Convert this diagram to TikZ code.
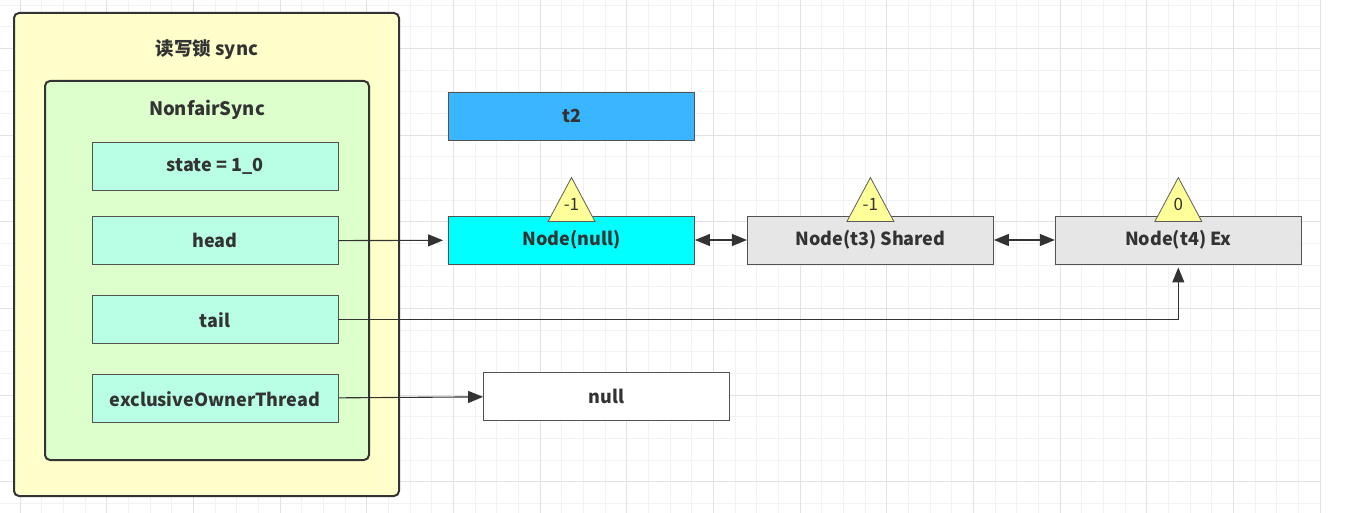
\documentclass[tikz,border=0pt]{standalone}
\usepackage{fontspec}
\setmainfont{Noto Sans CJK SC}
\usetikzlibrary{arrows.meta,positioning}
\definecolor{outerfill}{HTML}{FFFFCC}
\definecolor{innerfill}{HTML}{DDFFCC}
\definecolor{fieldfill}{HTML}{B9FFE6}
\definecolor{threadfill}{HTML}{3AB5FF}
\definecolor{headfill}{HTML}{00FFFF}
\definecolor{nodegray}{HTML}{E6E6E6}
\definecolor{countfill}{HTML}{FFFF99}
\definecolor{ink}{HTML}{333333}
\definecolor{gridminor}{HTML}{F2F2F2}
\definecolor{gridmajor}{HTML}{E2E2E2}

\begin{document}
\begin{tikzpicture}[x=1pt, y=-1pt,
  box/.style={draw=ink!85, line width=0.9pt, minimum width=246pt, minimum height=48pt, align=center, font=\fontsize{18}{21}\selectfont\bfseries, text=ink},
  field/.style={box, fill=fieldfill},
  qnode/.style={box, fill=nodegray},
  frame/.style={draw=ink, line width=2pt, rounded corners=5pt, inner sep=0pt},
  title/.style={font=\fontsize{18.5}{22}\selectfont\bfseries, text=ink},
  cnt/.style={draw=ink!80, fill=countfill, line width=0.8pt},
  arr/.style={-{Triangle[length=15pt,width=12pt]}, line width=1.1pt, draw=ink},
  darr/.style={{Triangle[length=15pt,width=12pt]}-{Triangle[length=15pt,width=12pt]}, line width=1.1pt, draw=ink}
]
  \useasboundingbox (0,0) rectangle (1367,513);
  % background grid
  \foreach \i in {0,...,61} \draw[gridminor, line width=0.8pt] ({-1.67+21.667*\i},0) -- ++(0,513);
  \foreach \i in {0,...,23} \draw[gridminor, line width=0.8pt] (0,{5+21.667*\i}) -- ++(1321,0);
  \foreach \i in {0,...,15} \draw[gridmajor, line width=0.8pt] ({20+86.667*\i},0) -- ++(0,513);
  \foreach \i in {0,...,5} \draw[gridmajor, line width=0.8pt] (0,{48.3+86.667*\i}) -- ++(1321,0);

  % read-write lock
  \node[frame, fill=outerfill, minimum width=385pt, minimum height=483pt] (rwlock) at (206.5,254.5) {};
  \node[title] (rwtitle) at (207,50) {读写锁 sync};
  \node[frame, fill=innerfill, minimum width=324pt, minimum height=379pt] (nonfair) at (207,270.5) {};
  \node[title] (nftitle) at (207,110) {NonfairSync};

  \node[field] (state) at (215,166) {state = 1\_0};
  \node[field, below=26pt of state] (head) {head};
  \node[field, below=30pt of head] (tail) {tail};
  \node[field, below=30pt of tail] (excl) {exclusiveOwnerThread};

  % wait queue
  \node[box, fill=headfill] (nnull) at (571.5,240) {Node(null)};
  \node[qnode, right=52pt of nnull] (nt3) {Node(t3) Shared};
  \node[qnode, right=61pt of nt3] (nt4) {Node(t4) Ex};
  \node[box, fill=threadfill, above=75pt of nnull] (t2) {t2};
  \node[box, fill=white] (owner) at (606.5,396) {null};

  \foreach \n/\v in {nnull/-1, nt3/-1, nt4/0} {
    \draw[cnt] ([xshift=-23.5pt,yshift=-6pt]\n.north) -- ([yshift=38pt]\n.north) -- ([xshift=23.5pt,yshift=-6pt]\n.north) -- cycle;
    \node[font=\fontsize{17}{19}\selectfont, text=ink] (c\n) at ([yshift=11pt]\n.north) {\v};
  }

  \draw[arr, shorten >=5pt] (head) -- (nnull);
  \draw[darr] (nnull) -- (nt3);
  \draw[darr] (nt3) -- (nt4);
  \draw[arr, shorten >=3pt] (tail) -| (nt4);
  \draw[arr] (excl) -- (owner);
\end{tikzpicture}
\end{document}
